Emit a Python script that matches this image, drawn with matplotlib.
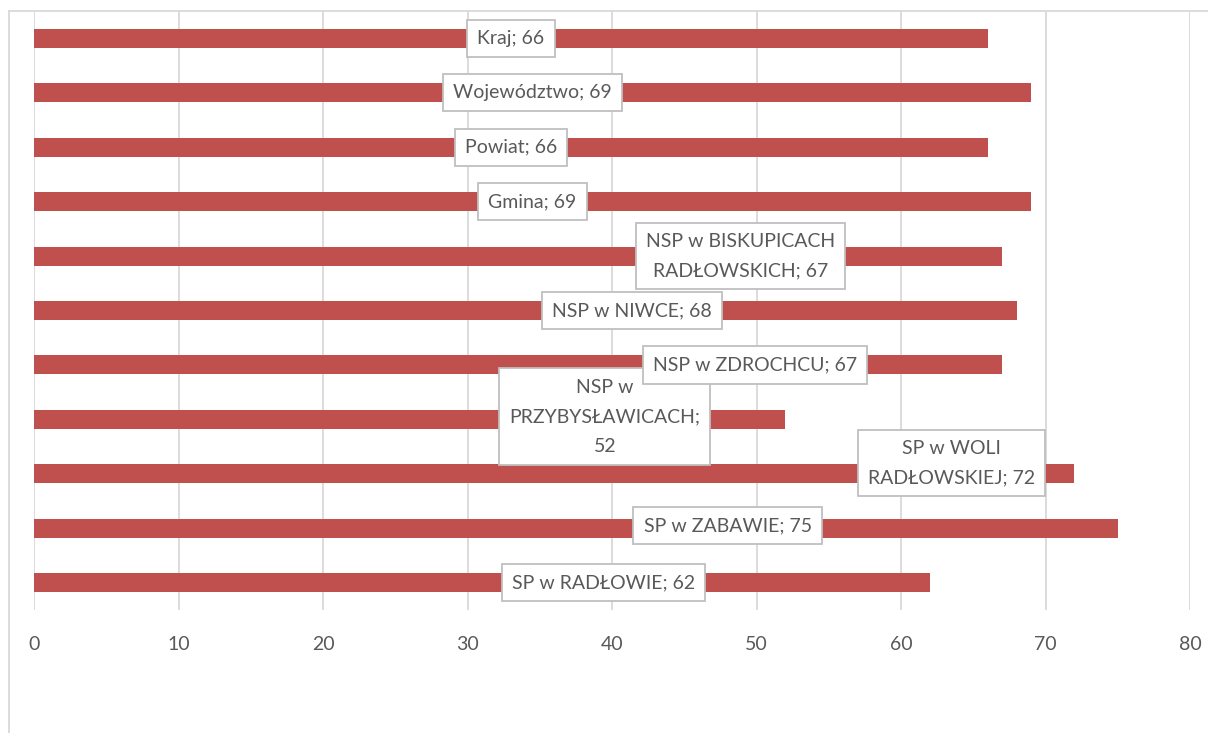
import matplotlib
matplotlib.use("Agg")
import matplotlib.pyplot as plt
from matplotlib.lines import Line2D

categories = [
    "Kraj", "Województwo", "Powiat", "Gmina",
    "NSP w BISKUPICACH\nRADŁOWSKICH", "NSP w NIWCE", "NSP w ZDROCHCU",
    "NSP w\nPRZYBYSŁAWICACH;\n", "SP w WOLI\nRADŁOWSKIEJ", "SP w ZABAWIE",
    "SP w RADŁOWIE",
]
values = [66, 69, 66, 69, 67, 68, 67, 52, 72, 75, 62]

# label box centres (data x, data y offset), as placed in the original
label_x = [33, 34.5, 33, 34.5, 48.9, 41.4, 49.9, 39.5, 63.5, 48.0, 39.4]
label_dy = [0, 0, 0, 0, 0, 0, 0, -0.05, -0.2, -0.05, 0]

BAR = "#C0504D"
GRID = "#D9D9D9"
TXT = "#595959"

plt.rcParams["font.family"] = ["Lato", "DejaVu Sans"]

fig = plt.figure(figsize=(12.08, 7.33), dpi=100)
ax = fig.add_axes([34 / 1208, 1 - 610 / 733, (1190 - 34) / 1208, (610 - 11) / 733])

y = list(range(len(categories)))
ax.barh(y, values, height=0.35, color=BAR, zorder=2)
ax.set_xlim(0, 80)
ax.set_ylim(len(categories) - 0.5, -0.5)
ax.set_xticks(range(0, 81, 10))
ax.set_yticks([])
ax.tick_params(axis="x", length=0, pad=19, labelsize=14, labelcolor=TXT)
ax.grid(axis="x", color=GRID, linewidth=1.3, zorder=0)
for s in ax.spines.values():
    s.set_visible(False)

for i, (name, v) in enumerate(zip(categories, values)):
    if name.endswith(";\n"):
        txt = f"{name}{v}"
    else:
        txt = f"{name}; {v}"
    # upper labels sit on top of lower ones, as in the source chart
    ax.text(label_x[i], i + label_dy[i], txt, ha="center", va="center",
            fontsize=14, color=TXT, linespacing=1.9, zorder=20 - i,
            bbox=dict(boxstyle="square,pad=0.52", fc="white", ec="#BFBFBF", lw=1.3))

# chart area border (left and top edges visible)
fig.add_artist(Line2D([9 / 1208, 9 / 1208], [0, 1 - 11 / 733], color=GRID, lw=1.3))
fig.add_artist(Line2D([9 / 1208, 1], [1 - 11 / 733, 1 - 11 / 733], color=GRID, lw=1.3))

fig.savefig("out.png", dpi=100)
